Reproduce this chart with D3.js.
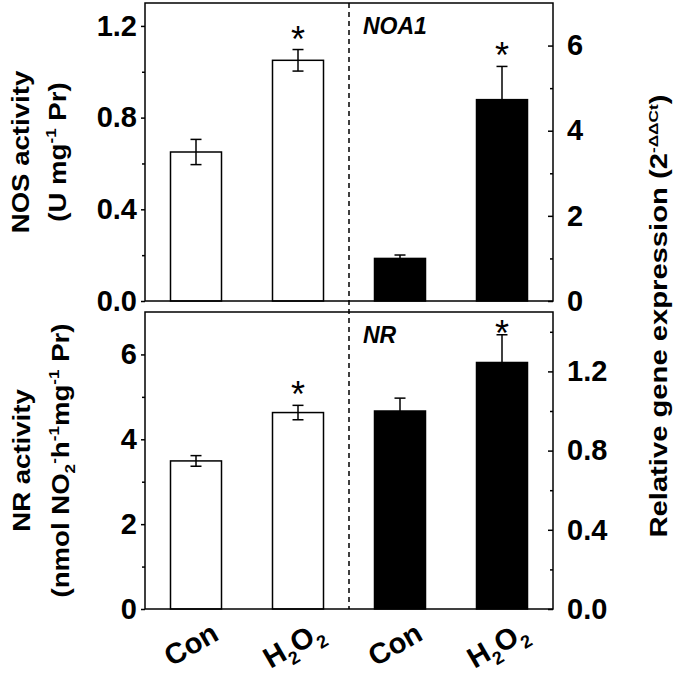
<!DOCTYPE html>
<html lang="en">
<head>
<meta charset="UTF-8">
<title>NOS / NR activity and gene expression</title>
<script src="https://cdnjs.cloudflare.com/ajax/libs/d3/7.8.5/d3.min.js"></script>
<style>
  body { margin: 0; background: #fff; }
  svg { display: block; font-family: "Liberation Sans", Arial, sans-serif; }
  .axis path { display: none; }
  .axis line { stroke: #000; stroke-width: 1.5; }
  .axis text { font-size: 29px; font-weight: bold; fill: #000; font-family: "Liberation Sans", Arial, sans-serif; }
  .title { font-size: 23px; font-weight: bold; }
</style>
</head>
<body>
<div id="chart"></div>
<script>
const treatments = ["Con", "H2O2"];
const significant = [false, true];

// top panel: NOS activity (left axis) and NOA1 expression (right axis)
const nosActivity = [0.65, 1.05];
const nosActivityErr = [0.055, 0.047];
const noa1Expression = [1.0, 4.73];
const noa1ExpressionErr = [0.08, 0.78];

// bottom panel: NR activity (left axis) and NR expression (right axis)
const nrActivity = [3.49, 4.63];
const nrActivityErr = [0.125, 0.17];
const nrExpression = [1.0, 1.245];
const nrExpressionErr = [0.065, 0.14];

const nosTicks = [0, 0.4, 0.8, 1.2], nosMinor = [0.2, 0.6, 1.0];
const noa1Ticks = [0, 2, 4, 6], noa1Minor = [1, 3, 5];
const nrTicks = [0, 2, 4, 6], nrMinor = [1, 3, 5];
const nrExprTicks = [0, 0.4, 0.8, 1.2], nrExprMinor = [0.2, 0.6, 1.0, 1.4];

const width = 675, height = 674;
const left = 145, right = 553;

const panels = [
  { top: 3, bottom: 301, leftMax: 1.3, rightMax: 7,
    leftTicks: nosTicks, leftMinor: nosMinor, leftFmt: ".1f",
    rightTicks: noa1Ticks, rightMinor: noa1Minor, rightFmt: "d",
    activity: nosActivity, activityErr: nosActivityErr,
    expr: noa1Expression, exprErr: noa1ExpressionErr, gene: "NOA1",
    title1: [["NOS activity"]],
    title2: [["(U mg"], ["-1", "sup"], [" Pr)"]],
    t1x: 29, t2x: 66 },
  { top: 312, bottom: 609, leftMax: 7, rightMax: 1.5,
    leftTicks: nrTicks, leftMinor: nrMinor, leftFmt: "d",
    rightTicks: nrExprTicks, rightMinor: nrExprMinor, rightFmt: ".1f",
    activity: nrActivity, activityErr: nrActivityErr,
    expr: nrExpression, exprErr: nrExpressionErr, gene: "NR",
    title1: [["NR activity"]],
    title2: [["(nmol NO"], ["2", "sub"], ["-", "sup"], ["h"], ["-1", "sup"], ["mg"], ["-1", "sup"], [" Pr)"]],
    t1x: 30, t2x: 69 }
];

const keys = ["activity-Con", "activity-H2O2", "expression-Con", "expression-H2O2"];
const x = d3.scaleBand().domain(keys).range([left, right]).paddingInner(0.5).paddingOuter(0.25);

const svg = d3.select("#chart").append("svg")
  .attr("width", width).attr("height", height);

// text with sub/superscripts, built from tspans
function richText(sel, parts, size) {
  let shift = 0;
  parts.forEach(([t, kind]) => {
    const target = kind === "sup" ? -0.42 * size : kind === "sub" ? 0.28 * size : 0;
    const ts = sel.append("tspan").attr("dy", target - shift).text(t);
    if (kind) ts.style("font-size", (size * 0.62) + "px");
    shift = target;
  });
}

function errorBar(g, cx, yTop, yBot, both) {
  const cap = 5.5;
  g.append("line").attr("x1", cx).attr("x2", cx).attr("y1", yTop).attr("y2", yBot);
  g.append("line").attr("x1", cx - cap).attr("x2", cx + cap).attr("y1", yTop).attr("y2", yTop);
  if (both) g.append("line").attr("x1", cx - cap).attr("x2", cx + cap).attr("y1", yBot).attr("y2", yBot);
}

panels.forEach(p => {
  const yL = d3.scaleLinear().domain([0, p.leftMax]).range([p.bottom, p.top]);
  const yR = d3.scaleLinear().domain([0, p.rightMax]).range([p.bottom, p.top]);

  svg.append("g").attr("class", "axis").attr("transform", `translate(${left},0)`)
    .call(d3.axisLeft(yL).tickValues(p.leftTicks).tickSize(4).tickPadding(4).tickFormat(d3.format(p.leftFmt)));
  svg.append("g").attr("class", "axis").attr("transform", `translate(${left},0)`)
    .call(d3.axisLeft(yL).tickValues(p.leftMinor).tickSize(3).tickFormat(""));
  svg.append("g").attr("class", "axis").attr("transform", `translate(${right},0)`)
    .call(d3.axisRight(yR).tickValues(p.rightTicks).tickSizeInner(-5).tickSizeOuter(0).tickPadding(14).tickFormat(d3.format(p.rightFmt)));
  svg.append("g").attr("class", "axis").attr("transform", `translate(${right},0)`)
    .call(d3.axisRight(yR).tickValues(p.rightMinor).tickSizeInner(-3).tickSizeOuter(0).tickFormat(""));

  const bw = x.bandwidth();
  const g = svg.append("g");
  const eb = svg.append("g").attr("stroke", "#000").attr("stroke-width", 1.5);

  const stars = [];
  treatments.forEach((t, i) => {
    // white bars: activity, left axis
    const xa = x("activity-" + t);
    g.append("rect").attr("x", xa).attr("width", bw)
      .attr("y", yL(p.activity[i])).attr("height", yL(0) - yL(p.activity[i]))
      .attr("fill", "#fff").attr("stroke", "#000").attr("stroke-width", 1.5);
    const aTop = yL(p.activity[i] + p.activityErr[i]);
    errorBar(eb, xa + bw / 2, aTop, yL(p.activity[i] - p.activityErr[i]), true);
    if (significant[i]) stars.push([xa + bw / 2, aTop]);

    // black bars: gene expression, right axis
    const xe = x("expression-" + t);
    g.append("rect").attr("x", xe).attr("width", bw)
      .attr("y", yR(p.expr[i])).attr("height", yR(0) - yR(p.expr[i]))
      .attr("fill", "#000").attr("stroke", "#000").attr("stroke-width", 1.5);
    const eTop = yR(p.expr[i] + p.exprErr[i]);
    errorBar(eb, xe + bw / 2, eTop, yR(p.expr[i]), false);
    if (significant[i]) stars.push([xe + bw / 2, eTop]);
  });

  stars.forEach(([cx, yTop]) => {
    const cy = Math.max(yTop - 18, p.top + 14);
    svg.append("text").attr("x", cx).attr("y", cy + 20)
      .attr("text-anchor", "middle").style("font-size", "36px").text("*");
  });

  svg.append("rect").attr("x", left).attr("y", p.top)
    .attr("width", right - left).attr("height", p.bottom - p.top)
    .attr("fill", "none").attr("stroke", "#000").attr("stroke-width", 1.5);

  svg.append("text").attr("x", 363).attr("y", p.top + 31)
    .style("font-size", "23px").style("font-weight", "bold").style("font-style", "italic")
    .text(p.gene);

  // left axis titles (two lines)
  const mid = (p.top + p.bottom) / 2;
  const t1 = svg.append("text").attr("class", "title").attr("text-anchor", "middle")
    .attr("transform", `translate(${p.t1x},${mid}) rotate(-90) scale(1.2,1)`);
  richText(t1, p.title1, 23);
  const t2 = svg.append("text").attr("class", "title").attr("text-anchor", "middle")
    .attr("transform", `translate(${p.t2x},${mid}) rotate(-90) scale(1.2,1)`);
  richText(t2, p.title2, 23);
});

// dashed separator between activity and expression
svg.append("line")
  .attr("x1", (x("activity-H2O2") + x.bandwidth() + x("expression-Con")) / 2)
  .attr("x2", (x("activity-H2O2") + x.bandwidth() + x("expression-Con")) / 2)
  .attr("y1", panels[0].top).attr("y2", panels[1].bottom)
  .attr("stroke", "#000").attr("stroke-width", 1.5).attr("stroke-dasharray", "5,4");

// right axis title
const rt = svg.append("text").attr("class", "title").attr("text-anchor", "middle")
  .attr("transform", "translate(667,316) rotate(-90) scale(1.27,1)");
richText(rt, [["Relative gene expression (2"], ["-\u0394\u0394Ct", "sup"], [")"]], 22);

// x labels
const xLabels = [[["Con"]], [["H"], ["2", "sub"], ["O"], ["2", "sub"]]];
keys.forEach((k, i) => {
  const lab = svg.append("text")
    .attr("text-anchor", "middle")
    .attr("transform", `translate(${x(k) + x.bandwidth() / 2},653) rotate(-30)`)
    .style("font-size", "29px").style("font-weight", "bold");
  const inner = lab.append("tspan").attr("dy", 10);
  richText(inner, xLabels[i % 2], 29);
});
</script>
</body>
</html>
